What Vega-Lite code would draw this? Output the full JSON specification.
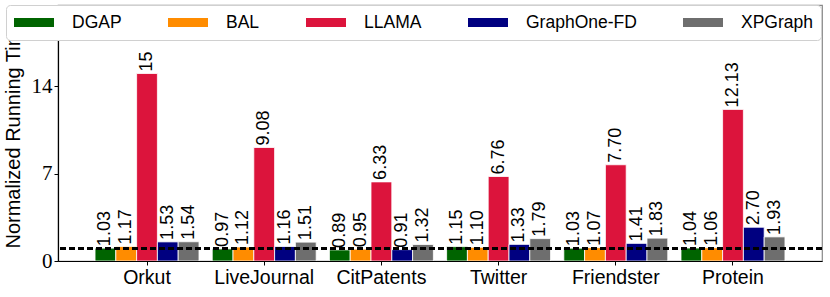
{
  "$schema": "https://vega.github.io/schema/vega-lite/v6.json",
  "width": 764,
  "height": 256,
  "autosize": {"type": "none"},
  "padding": {"left": 58, "top": 5, "right": 8, "bottom": 36},
  "background": "white",
  "config": {
    "view": {"stroke": "#888888", "strokeWidth": 1.2},
    "font": "Liberation Sans"
  },
  "data": {
    "values": [
      {"dataset": "Orkut", "system": "DGAP", "value": 1.03, "label": "1.03"},
      {"dataset": "Orkut", "system": "BAL", "value": 1.17, "label": "1.17"},
      {"dataset": "Orkut", "system": "LLAMA", "value": 15, "label": "15"},
      {"dataset": "Orkut", "system": "GraphOne-FD", "value": 1.53, "label": "1.53"},
      {"dataset": "Orkut", "system": "XPGraph", "value": 1.54, "label": "1.54"},
      {"dataset": "LiveJournal", "system": "DGAP", "value": 0.97, "label": "0.97"},
      {"dataset": "LiveJournal", "system": "BAL", "value": 1.12, "label": "1.12"},
      {"dataset": "LiveJournal", "system": "LLAMA", "value": 9.08, "label": "9.08"},
      {"dataset": "LiveJournal", "system": "GraphOne-FD", "value": 1.16, "label": "1.16"},
      {"dataset": "LiveJournal", "system": "XPGraph", "value": 1.51, "label": "1.51"},
      {"dataset": "CitPatents", "system": "DGAP", "value": 0.89, "label": "0.89"},
      {"dataset": "CitPatents", "system": "BAL", "value": 0.95, "label": "0.95"},
      {"dataset": "CitPatents", "system": "LLAMA", "value": 6.33, "label": "6.33"},
      {"dataset": "CitPatents", "system": "GraphOne-FD", "value": 0.91, "label": "0.91"},
      {"dataset": "CitPatents", "system": "XPGraph", "value": 1.32, "label": "1.32"},
      {"dataset": "Twitter", "system": "DGAP", "value": 1.15, "label": "1.15"},
      {"dataset": "Twitter", "system": "BAL", "value": 1.10, "label": "1.10"},
      {"dataset": "Twitter", "system": "LLAMA", "value": 6.76, "label": "6.76"},
      {"dataset": "Twitter", "system": "GraphOne-FD", "value": 1.33, "label": "1.33"},
      {"dataset": "Twitter", "system": "XPGraph", "value": 1.79, "label": "1.79"},
      {"dataset": "Friendster", "system": "DGAP", "value": 1.03, "label": "1.03"},
      {"dataset": "Friendster", "system": "BAL", "value": 1.07, "label": "1.07"},
      {"dataset": "Friendster", "system": "LLAMA", "value": 7.70, "label": "7.70"},
      {"dataset": "Friendster", "system": "GraphOne-FD", "value": 1.41, "label": "1.41"},
      {"dataset": "Friendster", "system": "XPGraph", "value": 1.83, "label": "1.83"},
      {"dataset": "Protein", "system": "DGAP", "value": 1.04, "label": "1.04"},
      {"dataset": "Protein", "system": "BAL", "value": 1.06, "label": "1.06"},
      {"dataset": "Protein", "system": "LLAMA", "value": 12.13, "label": "12.13"},
      {"dataset": "Protein", "system": "GraphOne-FD", "value": 2.70, "label": "2.70"},
      {"dataset": "Protein", "system": "XPGraph", "value": 1.93, "label": "1.93"}
    ]
  },
  "encoding": {
    "x": {
      "field": "dataset",
      "type": "nominal",
      "sort": null,
      "scale": {"paddingInner": 0.113, "paddingOuter": 0.316},
      "axis": {
        "title": null,
        "labelAngle": 0,
        "labelFont": "Liberation Sans",
        "labelFontSize": 19.5,
        "labelColor": "black",
        "labelPadding": 3,
        "domainColor": "black",
        "domainWidth": 1.2,
        "tickColor": "black",
        "tickSize": 4,
        "zindex": 1
      }
    },
    "xOffset": {
      "field": "system",
      "type": "nominal",
      "sort": ["DGAP", "BAL", "LLAMA", "GraphOne-FD", "XPGraph"],
      "scale": {"paddingInner": 0, "paddingOuter": 0}
    },
    "y": {
      "field": "value",
      "type": "quantitative",
      "scale": {"domain": [0, 20.48], "nice": false, "zero": true},
      "axis": {
        "title": "Normalized Running Time",
        "titleFont": "Liberation Sans",
        "titleFontSize": 20,
        "titleFontWeight": "normal",
        "titleColor": "black",
        "titlePadding": 8,
        "values": [0, 7, 14],
        "grid": false,
        "labelFont": "Liberation Serif",
        "labelFontSize": 21,
        "labelColor": "black",
        "labelPadding": 2,
        "domainColor": "black",
        "domainWidth": 1.2,
        "tickColor": "black",
        "tickSize": 4,
        "zindex": 1
      }
    }
  },
  "layer": [
    {
      "mark": {"type": "bar", "stroke": "white", "strokeWidth": 0.8},
      "encoding": {
        "color": {
          "field": "system",
          "type": "nominal",
          "sort": ["DGAP", "BAL", "LLAMA", "GraphOne-FD", "XPGraph"],
          "scale": {
            "domain": ["DGAP", "BAL", "LLAMA", "GraphOne-FD", "XPGraph"],
            "range": ["#006400", "#ff8c00", "#dc143c", "#000080", "#6e6e6e"]
          },
          "legend": {
            "title": null,
            "orient": "none",
            "legendX": -52,
            "legendY": 0,
            "direction": "horizontal",
            "columns": 5,
            "columnPadding": 46,
            "padding": 8,
            "clipHeight": 19,
            "fillColor": "white",
            "strokeColor": "#d0d0d0",
            "cornerRadius": 4,
            "symbolType": "M-1,-0.225H1V0.225H-1Z",
            "symbolSize": 1600,
            "symbolStrokeWidth": 0,
            "symbolOpacity": 1,
            "labelFont": "Liberation Sans",
            "labelFontSize": 17.5,
            "labelColor": "black",
            "labelOffset": 18,
            "zindex": 3
          }
        }
      }
    },
    {
      "mark": {
        "type": "text",
        "angle": 270,
        "align": "left",
        "baseline": "middle",
        "dx": 2,
        "font": "Liberation Sans",
        "fontSize": 18,
        "color": "black"
      },
      "encoding": {
        "text": {"field": "label", "type": "nominal"}
      }
    },
    {
      "mark": {"type": "rule", "color": "black", "strokeDash": [6, 3], "strokeWidth": 1.4},
      "encoding": {
        "y": {"datum": 1},
        "x": null,
        "xOffset": null
      }
    }
  ]
}
